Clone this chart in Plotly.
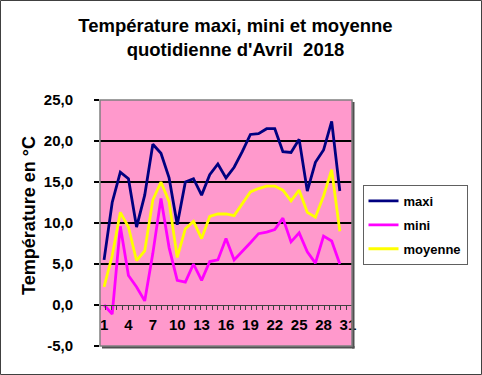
import plotly.graph_objects as go

days = list(range(1, 31))
maxi = [5.5, 12.5, 16.2, 15.4, 9.5, 13.4, 19.6, 18.5, 15.5, 9.8,
        15.0, 15.4, 13.4, 15.9, 17.2, 15.5, 16.8, 18.7, 20.8, 20.9,
        21.5, 21.5, 18.7, 18.6, 20.2, 13.9, 17.4, 18.9, 22.4, 13.9]
mini = [0.0, -1.1, 9.6, 3.6, 2.2, 0.5, 6.3, 13.0, 7.0, 3.0,
        2.8, 5.0, 3.0, 5.3, 5.5, 8.1, 5.5, 6.5, 7.6, 8.7,
        8.9, 9.2, 10.6, 7.7, 8.8, 6.5, 5.1, 8.4, 7.8, 5.0]
moyenne = [2.2, 6.0, 11.3, 9.5, 5.4, 6.6, 12.8, 15.0, 12.6, 5.8,
           9.3, 10.2, 8.1, 10.8, 11.1, 11.1, 10.9, 12.3, 13.8, 14.2,
           14.5, 14.5, 14.0, 12.7, 14.0, 11.3, 10.7, 13.3, 16.5, 9.0]

x_tickvals = [1, 4, 7, 10, 13, 16, 19, 22, 25, 28, 31]
x_ticktext = [str(v) for v in x_tickvals]
y_tickvals = [-5, 0, 5, 10, 15, 20, 25]
y_ticktext = ["-5,0", "0,0", "5,0", "10,0", "15,0", "20,0", "25,0"]

FONT = "Arial, 'Liberation Sans', sans-serif"

fig = go.Figure()
series = [("maxi", maxi, "#000080"), ("mini", mini, "#FF00FF"), ("moyenne", moyenne, "#FFFF00")]
for name, vals, col in series:
    fig.add_trace(go.Scatter(x=days, y=vals, mode="lines", name=name,
                             legendgroup=name,
                             line=dict(color=col, width=2.8)))

W, H = 482, 375
L, R, T, B = 100, 130, 100, 29
pw, ph = W - L - R, H - T - B

def fx(px):
    return (px - L) / pw

def fy(py):
    return (H - B - py) / ph

shapes = [
    # figure frame
    dict(type="rect", xref="paper", yref="paper", x0=fx(0.5), x1=fx(W - 0.5),
         y0=fy(H - 0.5), y1=fy(0.5), line=dict(color="#404040", width=1), layer="below"),
    # plot shadow right and bottom
    dict(type="rect", xref="paper", yref="paper", x0=fx(L + pw), x1=fx(L + pw + 2.5),
         y0=fy(H - B + 2.5), y1=fy(T + 2), fillcolor="#505050", line=dict(width=0), layer="above"),
    dict(type="rect", xref="paper", yref="paper", x0=fx(L + 2), x1=fx(L + pw + 2.5),
         y0=fy(H - B + 2.5), y1=fy(H - B), fillcolor="#505050", line=dict(width=0), layer="above"),
    # plot border
    dict(type="rect", xref="paper", yref="paper", x0=0, x1=1, y0=0, y1=1,
         line=dict(color="#808080", width=1.5), layer="above"),
]

fig.update_layout(
    width=W, height=H,
    margin=dict(l=L, r=R, t=T, b=B, pad=0),
    paper_bgcolor="white",
    plot_bgcolor="#FF99CC",
    separators=", ",
    font=dict(family=FONT, color="black"),
    title=dict(text="<b>Température maxi, mini et moyenne<br>quotidienne d'Avril\u00a0 2018</b>",
               x=235.5 / W, xanchor="center", xref="container",
               y=1 - 32 / H, yanchor="top", yref="container",
               font=dict(size=18.5, family=FONT, color="black")),
    showlegend=True,
    legend=dict(x=fx(362.5), xanchor="left", y=fy(185), yanchor="top",
                bgcolor="white", bordercolor="#606060", borderwidth=1,
                font=dict(size=13, family=FONT, color="black", weight="bold"),
                traceorder="grouped", tracegroupgap=4,
                itemwidth=30),
    shapes=shapes,
    annotations=[dict(text="<b>Température en °C</b>", xref="paper", yref="paper",
                      x=fx(29), y=fy(216), textangle=-90, showarrow=False,
                      xanchor="center", yanchor="middle",
                      font=dict(size=18, family=FONT, color="black"))],
)

fig.update_xaxes(
    range=[0.5, 31.5], tickmode="array", tickvals=x_tickvals, ticktext=x_ticktext,
    showgrid=False, zeroline=False,
    showline=True, linecolor="#404040", linewidth=1,
    anchor="free", position=fy(H - B - ph * 5 / 30),
    ticks="", ticklabelstandoff=6,
    minor=dict(tick0=0.5, dtick=31 / 45, ticks="outside", ticklen=4,
               tickcolor="#404040", tickwidth=1, showgrid=False),
    tickfont=dict(size=15, family=FONT, color="black", weight="bold"),
)
fig.update_yaxes(
    range=[-5, 25], tickmode="array", tickvals=y_tickvals, ticktext=y_ticktext,
    showgrid=True, gridcolor="black", gridwidth=2,
    zeroline=True, zerolinecolor="#404040", zerolinewidth=1,
    showline=False,
    ticks="outside", ticklen=5, tickcolor="black", tickwidth=2,
    ticklabelstandoff=18,
    tickfont=dict(size=15, family=FONT, color="black", weight="bold"),
)

fig.write_html("out.html", config={"displayModeBar": False},
               post_script="document.body.style.margin='0';document.body.style.padding='0';")
